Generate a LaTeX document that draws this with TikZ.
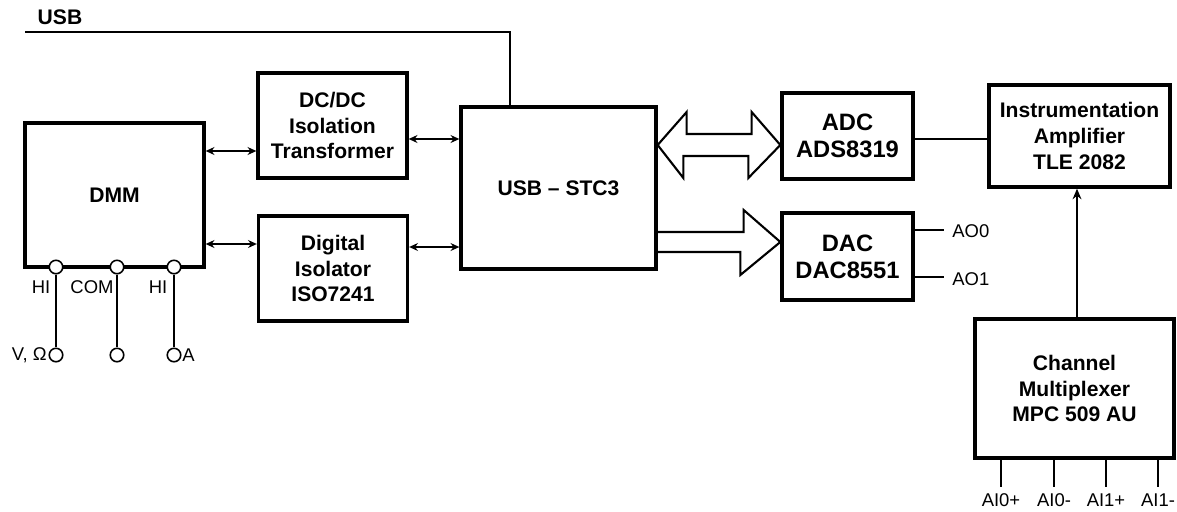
\documentclass[tikz,border=0pt]{standalone}
\usepackage{fontspec}
\setmainfont{Liberation Sans}
\usetikzlibrary{arrows.meta}
\usetikzlibrary{calc}

\tikzset{
    block/.style={draw, line width=1.9pt, align=center, inner sep=0pt,
        font=\bfseries\fontsize{12}{14.6}\selectfont},
    bigblock/.style={block, font=\bfseries\fontsize{13.5}{15.5}\selectfont},
    link/.style={line width=1.1pt,
        {Stealth[length=5pt,width=4.5pt]}-{Stealth[length=5pt,width=4.5pt]}},
    bus/.style={line width=1.2pt, line join=miter},
    wire/.style={line width=0.7pt},
    jack/.style={circle, draw, fill=white, line width=0.9pt,
        minimum size=0.27cm, inner sep=0pt},
    pinlabel/.style={font=\fontsize{10.5}{12}\selectfont, inner sep=0pt},
}

\begin{document}
\begin{tikzpicture}[x=0.02cm, y=-0.02cm]
        % frame
        \useasboundingbox (0,0) rectangle (1177,511);
        % blocks
        \node[block, minimum width=3.58cm, minimum height=2.88cm] (dmm) at (114.5,195) {DMM};
        \node[block, minimum width=2.98cm, minimum height=2.10cm] (dcdc) at (332.5,125.5) {DC/DC\\Isolation\\Transformer};
        \node[block, minimum width=2.98cm, minimum height=2.10cm] (iso) at (333,268.5) {Digital\\Isolator\\ISO7241};
        \node[block, minimum width=3.90cm, minimum height=3.24cm] (stc) at (558.5,188) {USB -- STC3};
        \node[bigblock, minimum width=2.62cm, minimum height=1.72cm] (adc) at (847.5,136) {ADC\\ADS8319};
        \node[bigblock, minimum width=2.62cm, minimum height=1.74cm] (dac) at (847.5,256.5) {DAC\\DAC8551};
        \node[block, minimum width=3.62cm, minimum height=2.04cm] (amp) at (1079.5,136) {Instrumentation\\Amplifier\\TLE 2082};
        \node[block, minimum width=3.98cm, minimum height=2.78cm] (mux) at (1074.5,388.5) {Channel\\Multiplexer\\MPC 509 AU};
        % usb cable
        \node[font=\bfseries\fontsize{12}{14}\selectfont, inner sep=0pt] (usblbl) at (60,17) {USB};
        \coordinate (usbstart) at (25,32);
        \draw[line width=0.9pt] (usbstart) -| (stc.north -| 510,0);
        % links to the isolators
        \draw[link] (dmm.east |- 0,151) -- (dcdc.west |- 0,151);
        \draw[link] (dcdc.east |- 0,139) -- (stc.west |- 0,139);
        \draw[link] (dmm.east |- 0,244) -- (iso.west |- 0,244);
        \draw[link] (iso.east |- 0,247) -- (stc.west |- 0,247);
        % buses
        \draw[bus] (stc.east |- 0,145) -- ++(29,-33) -- ++(0,22) -- ++(65,0) -- ++(0,-22)
            -- (adc.west |- 0,145) -- ++(-32,33) -- ++(0,-22) -- ++(-65,0) -- ++(0,22) -- cycle;
        \draw[bus] (stc.east |- 0,232) -- ++(86,0) -- ++(0,-22) -- (dac.west |- 0,242)
            -- ++(-40,33) -- ++(0,-23) -- (stc.east |- 0,252);
        \draw[line width=1.2pt] (adc.east |- 0,139) -- (amp.west |- 0,139);
        \draw[line width=1.4pt, -{Stealth[length=6pt,width=5pt]}] (mux.north -| 1077,0) -- (amp.south -| 1077,0);
        % analog outputs
        \coordinate (ao0) at (944,230);
        \coordinate (ao1) at (944,277);
        \draw[wire] (dac.east |- ao0) -- (ao0);
        \draw[wire] (dac.east |- ao1) -- (ao1);
        \node[pinlabel, anchor=west] (ao0lbl) at (952,231) {AO0};
        \node[pinlabel, anchor=west] (ao1lbl) at (952,279) {AO1};
        % analog inputs
        \foreach \x/\lbl [count=\i] in {1001/AI0+, 1054/AI0-, 1106/AI1+, 1158/AI1-}
        {
            \coordinate (pin\i) at (\x,487);
            \draw[wire] (mux.south -| pin\i) -- (pin\i);
            \node[pinlabel, anchor=north] (ai\i) at (\x,493) {\lbl};
        }
        % dmm terminals
        \foreach \x [count=\i] in {56,117,174}
        {
            \node[jack] (top\i) at (\x,267) {};
            \node[jack] (bot\i) at (\x,355) {};
            \draw[wire] (top\i) -- (bot\i);
        }
        \draw[line width=1.6pt] (top1.south) -- ++(0,25);
        \draw[line width=1.6pt] (top2.south) -- ++(0,25);
        \node[pinlabel] (hi1) at (41,287) {HI};
        \node[pinlabel] (com) at (92,287) {COM};
        \node[pinlabel] (hi2) at (158,287) {HI};
        \node[pinlabel, anchor=east] (volt) at (47,355) {V, Ω};
        \node[pinlabel, anchor=west] (amps) at (182,355) {A};
    \end{tikzpicture}
\end{document}
